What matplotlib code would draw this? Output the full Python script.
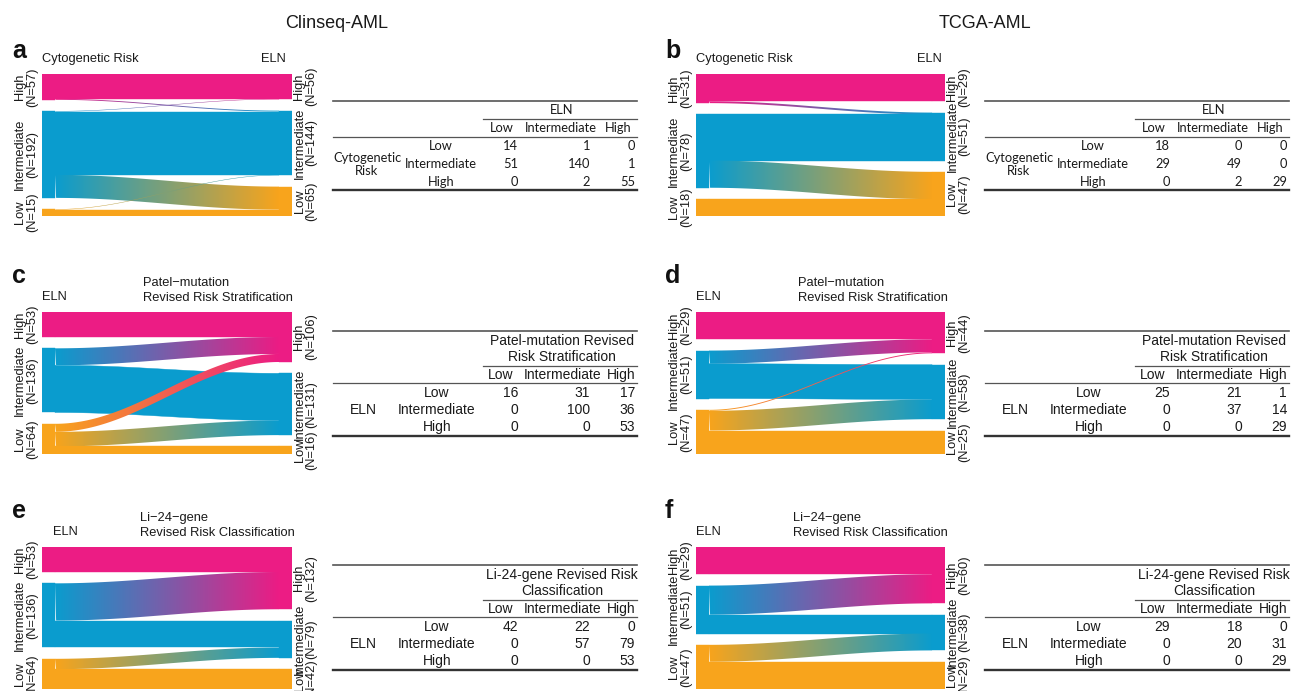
import numpy as np
import matplotlib
matplotlib.use("Agg")
import matplotlib.pyplot as plt
from matplotlib.patches import Rectangle, PathPatch
from matplotlib.path import Path
from matplotlib.colors import to_rgb

# ---------------- data ----------------
levels = ["Low", "Intermediate", "High"]

# rows = left axis category (Low, Intermediate, High); cols = right axis category
tab_a = [[14, 1, 0], [51, 140, 1], [0, 2, 55]]
tab_b = [[18, 0, 0], [29, 49, 0], [0, 2, 29]]
tab_c = [[16, 31, 17], [0, 100, 36], [0, 0, 53]]
tab_d = [[25, 21, 1], [0, 37, 14], [0, 0, 29]]
tab_e = [[42, 22, 0], [0, 57, 79], [0, 0, 53]]
tab_f = [[29, 18, 0], [0, 20, 31], [0, 0, 29]]

# N shown on strata labels (Low, Intermediate, High)
nl_a, nr_a = [15, 192, 57], [65, 144, 56]
nl_b, nr_b = [18, 78, 31], [47, 51, 29]
nl_c, nr_c = [64, 136, 53], [16, 131, 106]
nl_d, nr_d = [47, 51, 29], [25, 58, 44]
nl_e, nr_e = [64, 136, 53], [42, 79, 132]
nl_f, nr_f = [47, 51, 29], [29, 38, 60]

col_titles = ["Clinseq-AML", "TCGA-AML"]
panel_letters = ["a", "b", "c", "d", "e", "f"]
left_axis_names = ["Cytogenetic Risk", "Cytogenetic Risk", "ELN", "ELN", "ELN", "ELN"]
right_axis_names = ["ELN", "ELN",
                    "Patel\u2212mutation\nRevised Risk Stratification",
                    "Patel\u2212mutation\nRevised Risk Stratification",
                    "Li\u221224\u2212gene\nRevised Risk Classification",
                    "Li\u221224\u2212gene\nRevised Risk Classification"]
table_col_headers = ["ELN", "ELN",
                     "Patel-mutation Revised\nRisk Stratification",
                     "Patel-mutation Revised\nRisk Stratification",
                     "Li-24-gene Revised Risk\nClassification",
                     "Li-24-gene Revised Risk\nClassification"]
table_row_headers = ["Cytogenetic\nRisk", "Cytogenetic\nRisk", "ELN", "ELN", "ELN", "ELN"]

colors = {"Low": "#F8A41C", "Intermediate": "#0A9CCE", "High": "#EC1C84"}

# ---------------- layout ----------------
W, H = 1298, 691
fig = plt.figure(figsize=(W / 100, H / 100), dpi=100)
fig.patch.set_facecolor("white")

ov = fig.add_axes([0, 0, 1, 1])
ov.set_xlim(0, W)
ov.set_ylim(H, 0)
ov.axis("off")

LAB_FONT = ["Liberation Sans", "DejaVu Sans"]
TXT = "#1a1a1a"


def pax(x0, y0, x1, y1):
    return fig.add_axes([x0 / W, 1 - y1 / H, (x1 - x0) / W, (y1 - y0) / H])


def alluvial(ax, M, nl, nr, lname, rname, lname_pos, rname_pos):
    M = np.array(M, dtype=float)
    N = M.sum()
    gap = 0.095 * N
    left = M.sum(1)
    right = M.sum(0)
    lb = np.concatenate([[0], np.cumsum(left + gap)[:-1]])
    rb = np.concatenate([[0], np.cumsum(right + gap)[:-1]])
    T = N + 2 * gap
    bw = 13 / 250.0

    xs = np.linspace(bw, 1 - bw, 200)
    tt = (xs - bw) / (1 - 2 * bw)
    ss = (1 - np.cos(np.pi * tt)) / 2

    flows = []
    for i in range(3):
        for j in range(3):
            c = M[i, j]
            if c <= 0:
                continue
            lt = lb[i] + left[i] - M[i, j + 1:].sum()
            rt = rb[j] + right[j] - M[i + 1:, j].sum()
            flows.append((c, i, j, lt, rt))
    same = [f for f in flows if f[1] == f[2]]
    cross = sorted([f for f in flows if f[1] != f[2]], key=lambda f: -f[0])
    z = 1
    for c, i, j, lt, rt in same + cross:
        top = lt + (rt - lt) * ss
        bot = top - c
        verts = np.concatenate([np.column_stack([xs, top]),
                                np.column_stack([xs[::-1], bot[::-1]])])
        c0 = np.array(to_rgb(colors[levels[i]]))
        c1 = np.array(to_rgb(colors[levels[j]]))
        if i == j:
            ax.fill(verts[:, 0], verts[:, 1], color=c0, lw=0.3, ec=c0, zorder=z)
        else:
            patch = PathPatch(Path(verts, closed=True), fc="none", ec="none", zorder=z)
            ax.add_patch(patch)
            g = np.linspace(0, 1, 256)[None, :, None]
            img = c0[None, None, :] * (1 - g) + c1[None, None, :] * g
            im = ax.imshow(img, extent=[bw, 1 - bw, bot.min(), top.max()],
                           aspect="auto", interpolation="bilinear", zorder=z)
            im.set_clip_path(patch)
        z += 1

    for k in range(3):
        ax.add_patch(Rectangle((0, lb[k]), bw, left[k], fc=colors[levels[k]],
                               ec=colors[levels[k]], lw=0.3, zorder=20))
        ax.add_patch(Rectangle((1 - bw, rb[k]), bw, right[k], fc=colors[levels[k]],
                               ec=colors[levels[k]], lw=0.3, zorder=20))
        ax.text(-0.014, lb[k] + left[k] / 2, f"{levels[k]}\n(N={nl[k]})",
                transform=ax.get_yaxis_transform(), rotation=90, ha="right",
                va="center", multialignment="center", fontsize=9.3,
                linespacing=1.02, family=LAB_FONT, color=TXT)
        ax.text(1.006, rb[k] + right[k] / 2, f"{levels[k]}\n(N={nr[k]})",
                transform=ax.get_yaxis_transform(), rotation=90, ha="left",
                va="center", multialignment="center", fontsize=9.3,
                linespacing=1.02, family=LAB_FONT, color=TXT)

    ax.set_xlim(0, 1)
    ax.set_ylim(0, T)
    ax.axis("off")

    ax.text(lname_pos[0], lname_pos[1], lname, transform=ax.transAxes,
            ha="left", va="center", fontsize=9.3, family=LAB_FONT, color=TXT)
    ax.text(rname_pos[0], rname_pos[1], rname, transform=ax.transAxes,
            ha=rname_pos[2], va="center", fontsize=9.3, family=LAB_FONT,
            color=TXT, linespacing=1.3)


def table(M, x0, ys, col_header, row_header, font, fs, grp_dx, row_dx, hdr_x):
    top, hdr_ys, mid, colh, rule2, rows, bottom = ys
    M = np.array(M)
    wtab = 304
    ov.plot([x0, x0 + wtab], [top, top], color="#555555", lw=1.2)
    ov.plot([x0 + 150, x0 + wtab], [mid, mid], color="#555555", lw=0.9)
    ov.plot([x0, x0 + wtab], [rule2, rule2], color="#555555", lw=0.9)
    ov.plot([x0, x0 + wtab], [bottom, bottom], color="#333333", lw=1.7)
    for line, y in zip(col_header.split("\n"), hdr_ys):
        ov.text(x0 + 229, y, line, ha="center", va="center", fontsize=fs,
                family=font, color=TXT)
    for lab, cx in zip(levels, hdr_x):
        ov.text(x0 + cx, colh, lab, ha="center", va="center", fontsize=fs,
                family=font, color=TXT)
    for r, lab in enumerate(levels):
        ov.text(x0 + row_dx, rows[r], lab, ha="center", va="center", fontsize=fs,
                family=font, color=TXT)
        for cidx, rx in enumerate([185, 257, 302]):
            ov.text(x0 + rx, rows[r], str(M[r, cidx]), ha="right", va="center",
                    fontsize=fs, family=font, color=TXT)
    ov.text(x0 + grp_dx, rows[1], row_header, ha="center", va="center",
            fontsize=fs, family=font, color=TXT, multialignment="center",
            linespacing=1.1)


tabs = [tab_a, tab_b, tab_c, tab_d, tab_e, tab_f]
nls = [nl_a, nl_b, nl_c, nl_d, nl_e, nl_f]
nrs = [nr_a, nr_b, nr_c, nr_d, nr_e, nr_f]

col_x = [(42, 292), (696, 945)]
row_y = [(74, 216), (312, 454), (547, 689)]
tab_x = [333, 985]
tab_ys = [
    (101, [110], 119, 128, 137, [146, 164, 182], 190),
    (331, [341, 357], 366, 375, 383, [393, 410, 427], 436),
    (565, [575, 591], 600, 609, 617, [627, 644, 661], 670),
]
letter_base = [58, 283, 518]
letter_x = [12, 665]

lname_positions = [(0.0, 1.104), (0.0, 1.104), (0.0, 1.104), (0.0, 1.104),
                   (0.044, 1.104), (0.0, 1.104)]
rname_positions = [(0.975, 1.104, "right"), (0.985, 1.104, "right"),
                   (0.404, 1.151, "left"), (0.408, 1.151, "left"),
                   (0.392, 1.151, "left"), (0.388, 1.151, "left")]

for k in range(6):
    r, c = divmod(k, 2)
    x0, x1 = col_x[c]
    y0, y1 = row_y[r]
    ax = pax(x0, y0, x1, y1)
    alluvial(ax, tabs[k], nls[k], nrs[k], left_axis_names[k], right_axis_names[k],
             lname_positions[k], rname_positions[k])
    if r == 0:
        table(tabs[k], tab_x[c], tab_ys[r], table_col_headers[k], table_row_headers[k],
              ["Lato", "DejaVu Sans"], 9.3, 34, 108, [169, 228, 285])
    else:
        table(tabs[k], tab_x[c], tab_ys[r], table_col_headers[k], table_row_headers[k],
              LAB_FONT, 10.0, 30, 104, [168, 230, 288])
    ov.text(letter_x[c], letter_base[r], panel_letters[k], ha="left", va="baseline",
            fontsize=18, fontweight="bold", family=LAB_FONT, color="#111111")

ov.text(337, 23, col_titles[0], ha="center", va="center", fontsize=13,
        family=LAB_FONT, color=TXT)
ov.text(985, 23, col_titles[1], ha="center", va="center", fontsize=13,
        family=LAB_FONT, color=TXT)

fig.savefig("out.png", dpi=100, facecolor="white")
